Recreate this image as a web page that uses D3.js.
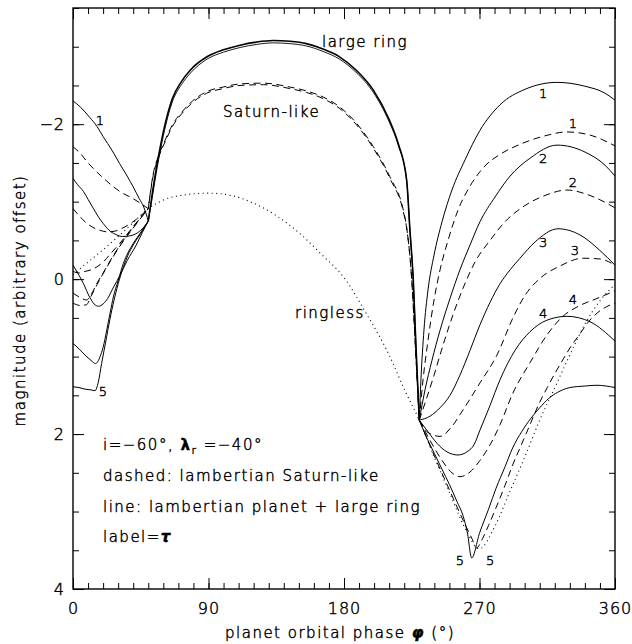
<!DOCTYPE html>
<html>
<head>
<meta charset="utf-8">
<script src="https://cdn.jsdelivr.net/npm/d3@7/dist/d3.min.js"></script>
<style>
body { margin: 0; background: #fff; }
svg text { font-family: "DejaVu Sans", sans-serif; font-weight: 200; fill: #000; stroke: #000; stroke-width: 0.45px; }
</style>
</head>
<body>
<svg id="chart" width="632" height="644"></svg>
<script>
// phase (deg) / magnitude pairs
var ringless = [[0,-0.06],[10,-0.22],[20,-0.38],[30,-0.55],[40,-0.73],[50,-0.91],[60,-1.02],[75,-1.09],[90,-1.11],
    [105,-1.08],[120,-0.98],[135,-0.82],[150,-0.6],[165,-0.32],[180,-0.02],[195,0.45],[210,0.98],[220,1.42],[230,1.82],
    [240,2.3],[250,2.75],[260,3.2],[270,3.48],[280,3.2],[290,2.75],[300,2.3],[310,1.82],[320,1.4],[330,0.98],
    [340,0.58],[350,0.28],[360,0.07]];

// middle part, shared by all optical depths
var largeRingMid = [[50,-0.75],[53,-1.15],[56,-1.5],[60,-1.9],[66,-2.33],[72,-2.55],[78,-2.7],[89,-2.87],[100,-2.96],
    [111,-3.02],[122,-3.06],[133,-3.08],[144,-3.07],[155,-3.04],[166,-2.97],[177,-2.87],[188,-2.7],[199.5,-2.44],
    [210,-2.06],[216,-1.75],[221.6,-1.28],[223.8,-0.63],[226,0.01],[227.8,0.87],[230,1.82]];
var largeRingMidThin = [[50,-0.75],[53,-1.1],[56,-1.45],[60,-1.85],[66,-2.29],[72,-2.51],[78,-2.66],[89,-2.84],[100,-2.93],
    [111,-2.99],[122,-3.03],[133,-3.05],[144,-3.04],[155,-3.01],[166,-2.94],[177,-2.84],[188,-2.67],[199.5,-2.41],
    [210,-2.03],[216,-1.73],[221.6,-1.28],[223.8,-0.63],[226,0.01],[227.8,0.87],[230,1.82]];
var saturnMid = [[50,-0.91],[53.3,-1.36],[57,-1.6],[61.1,-1.79],[66.6,-2.01],[72,-2.15],[77.7,-2.27],[88.8,-2.42],
    [99.8,-2.48],[110.9,-2.52],[126.4,-2.53],[144,-2.48],[155,-2.43],[166.2,-2.35],[177.3,-2.22],[188.4,-2.01],
    [199.5,-1.71],[210.5,-1.32],[219.4,-0.89],[221.6,-0.67],[225,0.01],[227.5,0.9],[230,1.82]];
var saturnMidLow = [[50,-0.91],[53.3,-1.34],[57,-1.58],[61.1,-1.77],[66.6,-1.99],[72,-2.13],[77.7,-2.25],[88.8,-2.4],
    [99.8,-2.46],[110.9,-2.5],[126.4,-2.51],[144,-2.46],[155,-2.41],[166.2,-2.33],[177.3,-2.2],[188.4,-1.99],
    [199.5,-1.69],[210.5,-1.3],[219.4,-0.87],[221.6,-0.66],[225,0.01],[227.5,0.9],[230,1.82]];

// solid: lambertian planet + large ring, tau = 1..5
var largeRingLeft = [
    [[0,-2.3],[5,-2.22],[11,-2.09],[16,-1.97],[20,-1.84],[26,-1.66],[31,-1.49],[36,-1.33],[40,-1.19],[44,-1.04],[47,-0.93],[50,-0.75]],
    [[0,-1.3],[3,-1.22],[7,-1.13],[10,-1.03],[13,-0.93],[17,-0.8],[20,-0.72],[24,-0.63],[28,-0.58],[33,-0.55],[38,-0.56],[43,-0.6],[47,-0.67],[50,-0.75]],
    [[0,-0.18],[4,-0.05],[7,0.06],[11,0.23],[14,0.32],[17,0.35],[20,0.32],[23,0.25],[27,0.1],[31,-0.04],[36,-0.24],[42,-0.44],[46,-0.6],[50,-0.75]],
    [[0,0.83],[4,0.9],[8,0.98],[12,1.05],[15,1.09],[18,1.0],[20,0.88],[22.4,0.66],[24.6,0.44],[26.8,0.23],[30,0.02],[33.4,-0.2],[36.5,-0.34],[40,-0.46],[45.6,-0.62],[50,-0.75]],
    [[0,1.39],[4,1.4],[8,1.42],[12,1.43],[14.6,1.44],[16.8,1.33],[19,1.09],[22.3,0.75],[24.5,0.52],[26.8,0.31],[30,0.06],[33.5,-0.16],[36.5,-0.31],[40,-0.44],[46.7,-0.64],[50,-0.75]]
];
var largeRingRight = [
    [[230,1.82],[231.1,1.3],[233.1,0.66],[235.8,0.14],[239.8,-0.31],[245.1,-0.74],[251.7,-1.15],[260.4,-1.54],[270.3,-1.92],[283.6,-2.25],[300.2,-2.45],[321.5,-2.54],[340.1,-2.49],[353.4,-2.4],[360,-2.31]],
    [[230,1.82],[233.8,1.43],[238.4,1.05],[243.8,0.66],[250.4,0.25],[257,-0.12],[263.7,-0.44],[270.3,-0.74],[280.3,-1.06],[290.3,-1.33],[303.5,-1.56],[321.5,-1.73],[340.1,-1.64],[353.4,-1.47],[360,-1.33]],
    [[230,1.82],[237.1,1.77],[243.8,1.66],[250.4,1.5],[257,1.24],[263.7,0.92],[270.3,0.59],[277,0.3],[283.6,0.06],[290.3,-0.12],[296.9,-0.27],[306.9,-0.48],[322.2,-0.65],[336.8,-0.57],[350,-0.37],[360,-0.18]],
    [[230,1.82],[235.8,1.97],[241.8,2.12],[248.4,2.23],[255.7,2.27],[262.4,2.22],[266.3,2.14],[270.3,1.95],[277,1.63],[283.6,1.3],[293.6,0.92],[303.5,0.68],[314.8,0.53],[328.1,0.48],[343.4,0.55],[360,0.8]],
    [[230,1.82],[235,2.05],[240,2.25],[245,2.45],[250,2.65],[255,2.87],[259,3.05],[262,3.28],[264.8,3.6],[270,3.28],[276,2.97],[281,2.7],[287,2.42],[292,2.18],[298,1.97],[304,1.8],[310,1.66],[316,1.54],[322,1.46],[330,1.4],[340,1.38],[348,1.37],[360,1.4]]
];

// dashed: lambertian Saturn-like ring, tau = 1..5
var saturnLeft = [
    [[0,-1.71],[5,-1.62],[10,-1.5],[16,-1.38],[21,-1.29],[27,-1.19],[32,-1.12],[38,-1.06],[44,-0.99],[50,-0.91]],
    [[0,-0.91],[4,-0.82],[8,-0.74],[13,-0.67],[18,-0.63],[23,-0.61],[28,-0.62],[34,-0.67],[42,-0.77],[50,-0.91]],
    [[0,-0.1],[4,-0.08],[8,-0.1],[12,-0.12],[16,-0.16],[20,-0.22],[25,-0.33],[31,-0.46],[40,-0.68],[50,-0.91]],
    [[0,0.18],[5,0.24],[9,0.27],[12,0.2],[16,0.05],[20,-0.08],[26,-0.28],[32,-0.46],[40,-0.67],[50,-0.91]],
    [[0,0.31],[5,0.34],[9,0.33],[12,0.22],[16,0.07],[20,-0.07],[26,-0.27],[32,-0.45],[40,-0.66],[50,-0.91]]
];
var saturnRight = [
    [[230,1.82],[232.5,1.3],[235.8,0.79],[239.8,0.27],[243.8,-0.12],[249.1,-0.5],[255.7,-0.89],[263.7,-1.2],[273.6,-1.46],[283.6,-1.61],[296.9,-1.74],[313.5,-1.85],[328.1,-1.9],[343.4,-1.86],[360,-1.72]],
    [[230,1.82],[234.5,1.56],[239.8,1.24],[245.8,0.85],[252.4,0.46],[259,0.12],[267,-0.22],[277,-0.5],[286.9,-0.74],[300.2,-0.95],[313.5,-1.08],[328.1,-1.15],[343.4,-1.08],[360,-0.92]],
    [[230,1.82],[235.8,1.98],[243.8,2.03],[251.7,1.9],[259,1.69],[270.3,1.34],[281.6,0.98],[292.2,0.5],[300.2,0.21],[310.2,-0.01],[323.5,-0.17],[338.7,-0.27],[350,-0.26],[360,-0.18]],
    [[230,1.82],[237.1,2.08],[245.1,2.34],[251.7,2.5],[257,2.55],[263.7,2.49],[270.3,2.34],[277,2.14],[283.6,1.88],[292.2,1.47],[303.5,1.08],[314.8,0.72],[325.4,0.48],[336.7,0.34],[348,0.25],[360,0.15]],
    [[230,1.82],[240,2.28],[250,2.72],[260,3.15],[265,3.35],[268,3.47],[272,3.35],[276,3.18],[281,2.95],[287,2.66],[292,2.4],[298,2.13],[303.5,1.88],[309,1.63],[315,1.4],[320,1.22],[326,1.02],[331,0.86],[337,0.7],[342,0.56],[348,0.44],[354,0.36],[360,0.31]]
];

var xTicks = [0, 90, 180, 270, 360];
var yTicks = [-2, 0, 2, 4];
var tauLabels = ["1", "2", "3", "4", "5"];

var svg = d3.select("#chart");
var margin = { left: 73, right: 17, top: 8, bottom: 55 };
var W = 632, H = 644;
var dashed = "7,4.5";

var x = d3.scaleLinear().domain([0, 360]).range([margin.left, W - margin.right]);
var y = d3.scaleLinear().domain([-3.5, 4]).range([margin.top, H - margin.bottom]);

var line = d3.line()
    .x(function (d) { return x(d[0]); })
    .y(function (d) { return y(d[1]); })
    .curve(d3.curveMonotoneX);

svg.append("defs").append("clipPath").attr("id", "plot-clip")
    .append("rect")
    .attr("x", x(0)).attr("y", y(-3.5))
    .attr("width", x(360) - x(0)).attr("height", y(4) - y(-3.5));

var plot = svg.append("g").attr("clip-path", "url(#plot-clip)");

function drawCurve(points, dash, width, offset) {
    plot.append("path")
        .datum(points)
        .attr("d", line)
        .attr("fill", "none")
        .attr("stroke", "#000")
        .attr("stroke-width", width || 1)
        .attr("stroke-dasharray", dash || null)
        .attr("stroke-dashoffset", offset || 0);
}

drawCurve(ringless, "1,3.5", 1.1);
drawCurve(saturnMid, dashed, 1);
drawCurve(saturnMidLow, dashed, 1, 6);
drawCurve(largeRingMidThin, null, 0.9);
drawCurve(largeRingMid, null, 1.6);

tauLabels.forEach(function (t, i) {
    drawCurve(saturnLeft[i], dashed, 1);
    drawCurve(saturnRight[i], dashed, 1);
    drawCurve(largeRingLeft[i], null, 1);
    drawCurve(largeRingRight[i], null, 1);
});

// axes: major ticks with labels, minor ticks, mirrored on top/right
function styleAxis(g) {
    g.select(".domain").remove();
    g.selectAll(".tick line").attr("stroke", "#000").attr("stroke-width", 1);
    g.selectAll(".tick text").attr("font-size", 16).attr("letter-spacing", 1)
        .style("font-family", "'DejaVu Sans', sans-serif").style("font-weight", 200)
        .style("stroke", "#000").style("stroke-width", "0.45px");
}

svg.append("g").attr("transform", "translate(0," + y(4) + ")")
    .call(d3.axisBottom(x).tickValues(xTicks).tickSizeInner(-11).tickSizeOuter(0).tickPadding(14)
        .tickFormat(function (d) { return String(d); }))
    .call(styleAxis);
svg.append("g").attr("transform", "translate(0," + y(4) + ")")
    .call(d3.axisBottom(x).tickValues(d3.range(0, 361, 10)).tickSizeInner(-6).tickSizeOuter(0).tickFormat(""))
    .call(styleAxis);
svg.append("g").attr("transform", "translate(0," + y(-3.5) + ")")
    .call(d3.axisTop(x).tickValues(xTicks).tickSizeInner(-11).tickSizeOuter(0).tickFormat(""))
    .call(styleAxis);
svg.append("g").attr("transform", "translate(0," + y(-3.5) + ")")
    .call(d3.axisTop(x).tickValues(d3.range(0, 361, 10)).tickSizeInner(-6).tickSizeOuter(0).tickFormat(""))
    .call(styleAxis);

svg.append("g").attr("transform", "translate(" + x(0) + ",0)")
    .call(d3.axisLeft(y).tickValues(yTicks).tickSizeInner(-11).tickSizeOuter(0).tickPadding(8)
        .tickFormat(function (d) { return d < 0 ? "\u2212" + Math.abs(d) : String(d); }))
    .call(styleAxis);
svg.append("g").attr("transform", "translate(" + x(0) + ",0)")
    .call(d3.axisLeft(y).tickValues(d3.range(-3.5, 4.01, 0.5)).tickSizeInner(-6).tickSizeOuter(0).tickFormat(""))
    .call(styleAxis);
svg.append("g").attr("transform", "translate(" + x(360) + ",0)")
    .call(d3.axisRight(y).tickValues(yTicks).tickSizeInner(-11).tickSizeOuter(0).tickFormat(""))
    .call(styleAxis);
svg.append("g").attr("transform", "translate(" + x(360) + ",0)")
    .call(d3.axisRight(y).tickValues(d3.range(-3.5, 4.01, 0.5)).tickSizeInner(-6).tickSizeOuter(0).tickFormat(""))
    .call(styleAxis);

svg.append("rect")
    .attr("x", x(0)).attr("y", y(-3.5))
    .attr("width", x(360) - x(0)).attr("height", y(4) - y(-3.5))
    .attr("fill", "none").attr("stroke", "#000").attr("stroke-width", 1.4);

// curve labels (tau)
var tauMarks = [
    { t: "1", p: 312.2, m: -2.40 }, { t: "1", p: 332.1, m: -2.01 },
    { t: "2", p: 312.2, m: -1.57 }, { t: "2", p: 332.1, m: -1.25 },
    { t: "3", p: 312.2, m: -0.48 }, { t: "3", p: 333.4, m: -0.37 },
    { t: "4", p: 312.2, m: 0.44 }, { t: "4", p: 332.1, m: 0.25 },
    { t: "1", p: 17.9, m: -2.05 }, { t: "5", p: 19.9, m: 1.45 },
    { t: "5", p: 257, m: 3.63 }, { t: "5", p: 277, m: 3.63 }
];
svg.selectAll("text.tau")
    .data(tauMarks)
    .enter().append("text")
    .classed("tau", true)
    .attr("x", function (d) { return x(d.p); })
    .attr("y", function (d) { return y(d.m) + 5; })
    .attr("text-anchor", "middle")
    .attr("font-size", 13)
    .text(function (d) { return d.t; });

function note(tx, ty, str, size) {
    return svg.append("text")
        .attr("x", tx).attr("y", ty)
        .attr("font-size", size || 15)
        .attr("letter-spacing", 1.5)
        .text(str);
}

note(322, 47, "large ring");
note(223, 117, "Saturn-like");
note(295, 318, "ringless");

var t1 = note(103, 450, "i=\u221260\u00b0,  ");
t1.append("tspan").attr("font-weight", "bold").text("\u03bb");
t1.append("tspan").attr("font-size", 11).attr("dy", 4).text("r");
t1.append("tspan").attr("dy", -4).text(" =\u221240\u00b0");
note(103, 481, "dashed: lambertian Saturn-like");
note(103, 512, "line: lambertian planet + large ring");
var t4 = note(103, 542, "label=");
t4.append("tspan").attr("font-weight", "bold").attr("font-style", "italic").text("\u03c4");

var xt = note(225, 638, "planet orbital phase ");
xt.append("tspan").attr("font-weight", "bold").attr("font-style", "italic").text("\u03c6");
xt.append("tspan").text(" (\u00b0)");

svg.append("text")
    .attr("transform", "translate(25," + ((y(-3.5) + y(4)) / 2 + 2) + ") rotate(-90)")
    .attr("text-anchor", "middle")
    .attr("font-size", 15)
    .attr("letter-spacing", 1.5)
    .text("magnitude (arbitrary offset)");
</script>
</body>
</html>
